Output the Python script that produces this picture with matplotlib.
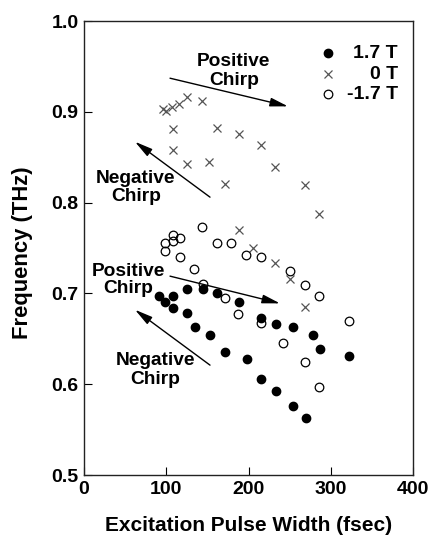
import matplotlib
matplotlib.use("Agg")
import matplotlib.pyplot as plt

plt.rcParams['font.family'] = ['Liberation Sans', 'DejaVu Sans']
plt.rcParams['font.weight'] = 'bold'

# --- data ---
x_pos = [90.8, 98.9, 108.6, 108.6, 125.6, 125.6, 144.2, 135.3, 162.0, 152.9, 188.9, 171.0,
         215.2, 197.8, 233.4, 253.7, 215.2, 233.4, 278.8, 286.9, 253.7, 269.4, 322.6]
y_pos = [0.697, 0.691, 0.697, 0.684, 0.705, 0.678, 0.705, 0.663, 0.700, 0.6546, 0.691, 0.6356,
         0.6725, 0.628, 0.6667, 0.663, 0.606, 0.593, 0.6546, 0.639, 0.576, 0.5626, 0.631]

x_zero = [96.5, 99.7, 107.5, 115.5, 124.8, 143.1, 107.8, 161.3, 188.0, 215.2, 107.8, 125.6,
          151.6, 232.6, 171.0, 268.3, 286.1, 188.5, 205.0, 232.2, 250.5, 268.7]
y_zero = [0.903, 0.901, 0.905, 0.9085, 0.916, 0.912, 0.881, 0.882, 0.8755, 0.863, 0.858, 0.8425,
          0.845, 0.8396, 0.821, 0.819, 0.7876, 0.770, 0.750, 0.7334, 0.716, 0.685]

x_neg = [143.8, 107.8, 116.7, 107.8, 98.1, 98.1, 116.7, 161.3, 178.7, 196.9, 215.2, 134.1,
         144.3, 171.0, 187.6, 250.5, 269.0, 286.0, 214.8, 241.5, 269.0, 286.0, 322.2]
y_neg = [0.773, 0.764, 0.761, 0.758, 0.755, 0.747, 0.740, 0.755, 0.755, 0.742, 0.740, 0.727,
         0.710, 0.695, 0.677, 0.725, 0.709, 0.697, 0.667, 0.6455, 0.6246, 0.597, 0.670]

series_labels = ['1.7 T', '0 T', '-1.7 T']
x_ticks = [0, 100, 200, 300, 400]
y_ticks = [0.5, 0.6, 0.7, 0.8, 0.9, 1.0]

fig = plt.figure(figsize=(4.32, 5.36), dpi=100)
ax = fig.add_axes([84/432, 1 - 475/536, 329/432, 454/536])

ax.plot(x_zero, y_zero, linestyle='none', marker='x', ms=5.5, mew=0.9, color='#555555', zorder=2)
ax.plot(x_neg, y_neg, linestyle='none', marker='o', ms=6.2, mew=0.9, mfc='none', mec='black', zorder=3)
ax.plot(x_pos, y_pos, linestyle='none', marker='o', ms=6.0, mfc='black', mec='black', zorder=4)

ax.set_xlim(0, 400)
ax.set_ylim(0.5, 1.0)
ax.set_xticks(x_ticks)
ax.set_yticks(y_ticks)
ax.set_xticklabels([str(t) for t in x_ticks])
ax.set_yticklabels([f"{t:.1f}" for t in y_ticks])
ax.tick_params(direction='in', length=6, width=0.8, labelsize=14, pad=4)
for lbl in ax.get_xticklabels() + ax.get_yticklabels():
    lbl.set_fontweight('bold')
for s in ax.spines.values():
    s.set_linewidth(1.0)
    s.set_color('#222222')

ax.set_xlabel('Excitation Pulse Width (fsec)', fontsize=15, fontweight='bold')
ax.set_ylabel('Frequency (THz)', fontsize=15.8, fontweight='bold')
ax.xaxis.set_label_coords(0.5, -0.090)
ax.yaxis.set_label_coords(-0.155, 0.489)

# legend (manual, right-aligned labels)
leg_y = [0.929, 0.883, 0.839]
ax.plot([0.7426], [leg_y[0]], transform=ax.transAxes, marker='o', ms=6.0, color='black', clip_on=False)
ax.plot([0.7426], [leg_y[1]], transform=ax.transAxes, marker='x', ms=5.5, mew=0.9, color='#555555', clip_on=False)
ax.plot([0.7426], [leg_y[2]], transform=ax.transAxes, marker='o', ms=6.2, mew=0.9, mfc='none', mec='black', clip_on=False)
for yy, lab in zip(leg_y, series_labels):
    ax.text(0.954, yy, lab, transform=ax.transAxes, ha='right', va='center',
            fontsize=14, fontweight='bold')

# annotations
tfs = 13.8
def two_line(x, y1, y2, l1, l2):
    ax.text(x, y1, l1, ha='center', va='baseline', fontsize=tfs, fontweight='bold')
    ax.text(x, y2, l2, ha='center', va='baseline', fontsize=tfs, fontweight='bold')

two_line(182.2, 0.950, 0.9293, 'Positive', 'Chirp')
two_line(63.2, 0.8216, 0.8019, 'Negative', 'Chirp')
two_line(53.5, 0.7195, 0.7008, 'Positive', 'Chirp')
two_line(87.0, 0.6206, 0.5997, 'Negative', 'Chirp')

aprops = dict(arrowstyle='-|>,head_length=0.9,head_width=0.22', color='black', lw=1.0,
              mutation_scale=12, shrinkA=0, shrinkB=0)
ax.annotate('', xy=(248, 0.906), xytext=(104.6, 0.937), arrowprops=aprops)
ax.annotate('', xy=(62, 0.867), xytext=(153.2, 0.806), arrowprops=aprops)
ax.annotate('', xy=(238.3, 0.689), xytext=(104.6, 0.719), arrowprops=aprops)
ax.annotate('', xy=(62, 0.682), xytext=(153.2, 0.621), arrowprops=aprops)

fig.savefig('out.png', dpi=100)
